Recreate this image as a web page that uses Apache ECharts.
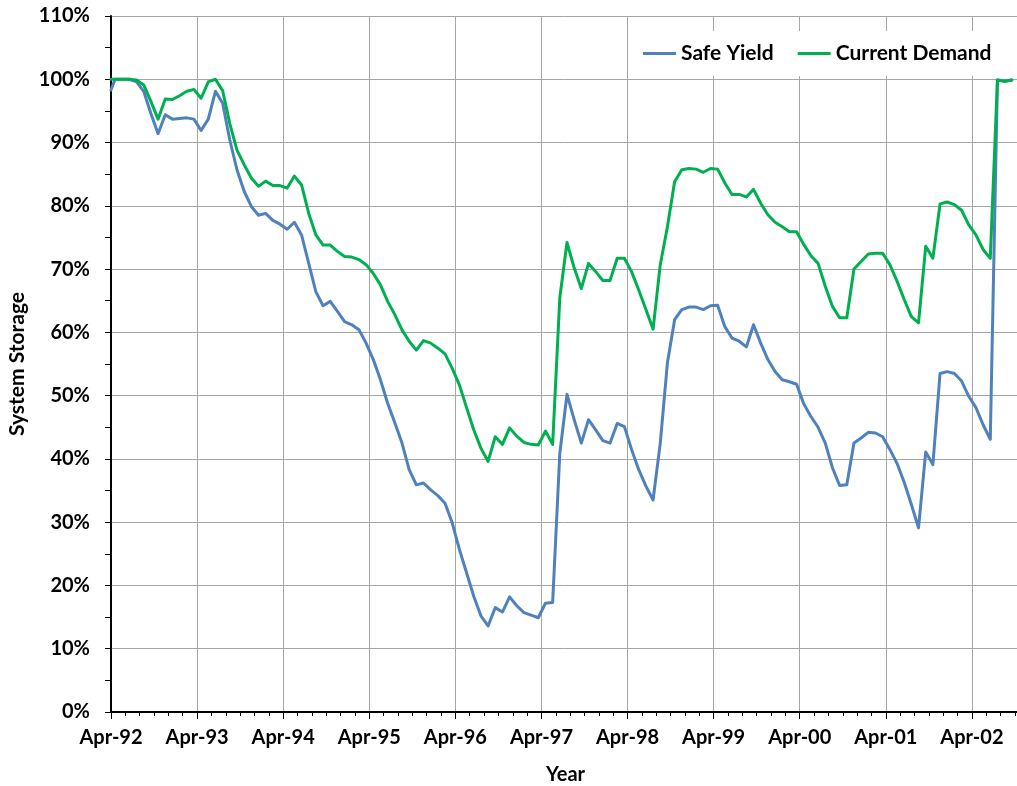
<!DOCTYPE html>
<html>
<head>
<meta charset="utf-8">
<title>System Storage</title>
<script src="https://cdn.jsdelivr.net/npm/echarts@6/dist/echarts.min.js"></script>
<style>
  html, body { margin: 0; padding: 0; background: #fff; }
  #chart { width: 1017px; height: 786px; }
</style>
</head>
<body>
<div id="chart"></div>
<script>
// monthly storage (%), first point Apr-92, then mid-month through Oct-02
const safeYield = [
  98.3, 100, 100, 100, 99.6, 98.1, 94.6, 91.4, 94.4, 93.7, 93.8, 93.9,
  93.7, 91.9, 93.7, 98.1, 96.2, 90.4, 85.7, 82.3, 79.9, 78.5, 78.8, 77.7,
  77.1, 76.3, 77.4, 75.4, 70.9, 66.4, 64.2, 64.9, 63.3, 61.7, 61.2, 60.4,
  58.3, 55.7, 52.5, 48.8, 45.7, 42.5, 38.3, 35.9, 36.2, 35.1, 34.2, 33.0,
  29.9, 25.7, 22.0, 18.3, 15.2, 13.6, 16.5, 15.8, 18.2, 16.8, 15.7, 15.3,
  14.9, 17.2, 17.3, 40.9, 50.2, 46.2, 42.5, 46.2, 44.6, 42.9, 42.5, 45.6,
  45.1, 41.5, 38.3, 35.7, 33.5, 42.5, 55.2, 62.0, 63.6, 64.0, 64.0, 63.6,
  64.2, 64.3, 60.9, 59.1, 58.6, 57.7, 61.2, 58.3, 55.7, 53.8, 52.5, 52.2,
  51.8, 48.7, 46.7, 45.0, 42.5, 38.6, 35.8, 35.9, 42.5, 43.3, 44.2, 44.1,
  43.5, 41.5, 39.3, 36.3, 32.8, 29.1, 41.1, 39.1, 53.5, 53.8, 53.5, 52.3,
  49.9, 48.1, 45.4, 43.1, 99.9, 99.7, 99.9
]
const currentDemand = [
  100, 100, 100, 100, 99.9, 99.1, 96.5, 93.7, 96.9, 96.8, 97.4, 98.1,
  98.4, 97.0, 99.6, 100, 98.2, 93.0, 88.8, 86.5, 84.4, 83.1, 83.9, 83.2,
  83.2, 82.8, 84.7, 83.3, 78.8, 75.4, 73.8, 73.8, 72.8, 72.0, 71.9, 71.5,
  70.7, 69.3, 67.5, 64.9, 62.8, 60.4, 58.6, 57.2, 58.7, 58.3, 57.5, 56.6,
  54.3, 51.7, 48.1, 44.6, 41.7, 39.6, 43.5, 42.3, 44.9, 43.6, 42.6, 42.3,
  42.2, 44.4, 42.3, 65.5, 74.2, 70.2, 66.9, 70.9, 69.6, 68.2, 68.2, 71.7,
  71.7, 69.6, 66.7, 63.6, 60.5, 70.7, 76.7, 83.8, 85.7, 85.9, 85.8, 85.3,
  85.9, 85.8, 83.6, 81.8, 81.8, 81.4, 82.6, 80.4, 78.6, 77.4, 76.7, 75.9,
  75.9, 73.9, 72.1, 70.9, 67.3, 64.1, 62.3, 62.3, 70.0, 71.2, 72.4, 72.5,
  72.5, 70.7, 68.1, 65.2, 62.5, 61.5, 73.6, 71.7, 80.3, 80.6, 80.2, 79.3,
  77.0, 75.4, 73.1, 71.7, 99.9, 99.7, 99.9
]
const seriesNames = ['Safe Yield', 'Current Demand']
const seriesColors = ['#4F81BD', '#00B050']
const yTicks = [0, 10, 20, 30, 40, 50, 60, 70, 80, 90, 100, 110]

// months since Apr-92 (first reading on the 1st, the rest mid-month)
const months = safeYield.map((v, i) => (i === 0 ? 0 : i - 0.44))

const FONT = 'Lato'
const myChart = echarts.init(document.getElementById('chart'))

function makeSeries (name, values, color) {
  return {
    name: name,
    type: 'line',
    data: values.map((v, i) => [months[i], v]),
    symbol: 'none',
    animation: false,
    lineStyle: { color: color, width: 3, cap: 'round', join: 'round' },
    itemStyle: { color: color }
  }
}

const option = {
  backgroundColor: '#fff',
  animation: false,
  textStyle: { fontFamily: FONT },
  grid: {
    left: 111,
    top: 16,
    height: 696,
    right: -41,
    outerBoundsMode: 'none',
    containLabel: false
  },
  legend: {
    data: seriesNames,
    orient: 'horizontal',
    left: 638,
    top: 31,
    width: 370,
    padding: [12, 10, 12, 5],
    backgroundColor: '#fff',
    icon: 'rect',
    itemWidth: 33,
    itemHeight: 3,
    itemGap: 24,
    textStyle: { fontFamily: FONT, fontWeight: 'bold', fontSize: 21, color: '#000' }
  },
  xAxis: {
    type: 'value',
    min: 0,
    max: 132,
    interval: 12,
    name: 'Year',
    nameLocation: 'middle',
    nameGap: 53,
    nameTextStyle: { fontFamily: FONT, fontWeight: 'bold', fontSize: 20, color: '#000', padding: [0, 38, 0, 0] },
    axisLine: { show: true, onZero: false, lineStyle: { color: '#000', width: 2 } },
    axisTick: { show: true, inside: false, length: 7, lineStyle: { color: '#000', width: 1 } },
    minorTick: { show: true, splitNumber: 6, length: 4, lineStyle: { color: '#000', width: 1 } },
    axisLabel: {
      margin: 16,
      fontFamily: FONT,
      fontWeight: 'bold',
      fontSize: 20,
      color: '#000',
      formatter: function (v) {
        const yr = (92 + Math.round(v / 12)) % 100
        return 'Apr-' + (yr < 10 ? '0' + yr : yr)
      }
    },
    splitLine: { show: true, lineStyle: { color: '#A6A6A6', width: 1 } }
  },
  yAxis: {
    type: 'value',
    min: yTicks[0],
    max: yTicks[yTicks.length - 1],
    interval: 10,
    name: 'System Storage',
    nameLocation: 'middle',
    nameGap: 82,
    nameTextStyle: { fontFamily: FONT, fontWeight: 'bold', fontSize: 21, color: '#000' },
    axisLine: { show: true, lineStyle: { color: '#000', width: 2 } },
    axisTick: { show: true, inside: false, length: 6, lineStyle: { color: '#000', width: 1 } },
    minorTick: { show: true, splitNumber: 2, length: 6, lineStyle: { color: '#000', width: 1 } },
    axisLabel: {
      margin: 21,
      fontFamily: FONT,
      fontWeight: 'bold',
      fontSize: 20,
      color: '#000',
      formatter: '{value}%'
    },
    splitLine: { show: true, lineStyle: { color: '#A6A6A6', width: 1 } }
  },
  series: [
    makeSeries(seriesNames[0], safeYield, seriesColors[0]),
    makeSeries(seriesNames[1], currentDemand, seriesColors[1])
  ]
}

myChart.setOption(option)
</script>
</body>
</html>
